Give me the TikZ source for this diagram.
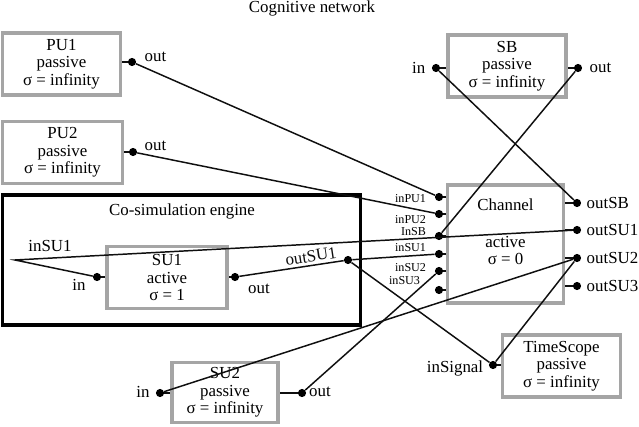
\documentclass[tikz,border=0pt]{standalone}
\usepackage{fontspec}
\setmainfont{Liberation Serif}
\usetikzlibrary{positioning,calc}
\definecolor{cUnit}{RGB}{165,165,165}
\definecolor{cWire}{RGB}{15,15,15}

\begin{document}
\begin{tikzpicture}[
  x=0.025cm, y=-0.025cm,
  font=\fontsize{12}{12.5}\selectfont,
  unit/.style 2 args={draw=cUnit, line width=2.2pt, fill=white, align=center,
    inner sep=0pt, minimum width=#1, minimum height=#2},
  engine/.style={draw=black, line width=2.3pt, minimum width=8.93cm,
    minimum height=3.25cm, inner sep=0pt},
  port/.style={circle, fill=black, inner sep=0pt, minimum size=5.8pt},
  stub/.style={line width=1.3pt, cWire},
  wire/.style={line width=1.05pt, cWire},
  lbl/.style={inner sep=1pt},
  chlbl/.style={font=\fontsize{8.6}{9}\selectfont, inner sep=0.5pt, anchor=east},
]
\useasboundingbox (0,0) rectangle (639,427);

\node[lbl] (title) at (312,8) {Cognitive network};

% Co-simulation engine frame
\node[engine] (eng) at (181.5,260) {};
\node[lbl] (engtitle) at (182,211) {Co-simulation engine};

% Units
\node[unit={2.93cm}{1.55cm}] (pu1) at (61.5,64) {PU1\\ passive\\ σ = infinity};
\node[unit={2.98cm}{1.53cm}] (pu2) at (62.5,152.5) {PU2\\ passive\\ σ = infinity};
\node[unit={2.95cm}{1.55cm}] (sb) at (507,66) {SB\\ passive\\ σ = infinity};
\node[unit={3.0cm}{1.53cm}] (su1) at (167,277.5) {SU1\\ active\\ σ = 1};
\node[unit={2.65cm}{1.48cm}] (su2) at (225,392.5) {SU2\\ passive\\ σ = infinity};
\node[unit={2.93cm}{1.55cm}] (ts) at (561.5,366) {TimeScope\\ passive\\ σ = infinity};
\node[unit={2.88cm}{2.95cm}] (chan) at (505.5,244) {};
\node[align=center, inner sep=0pt] (chantext) at (505.5,232)
  {Channel\\[13.5pt] active\\ σ = 0};

% Unit ports
\node[port] (pu1out) at (132,62) {};
\node[port] (pu2out) at (133,152) {};
\node[port] (sbin) at (436,68) {};
\node[port] (sbout) at (578,68) {};
\node[port] (su1in) at (97,277) {};
\node[port] (su1out) at (235,277) {};
\node[port] (su2in) at (160,393) {};
\node[port] (su2out) at (302,393) {};
\node[port] (tsin) at (493,365) {};
\node[port] (junc) at (348,260) {};
\coordinate (bend) at (15,260);

\draw[stub] (pu1out) -- (pu1out -| pu1.east);
\draw[stub] (pu2out) -- (pu2out -| pu2.east);
\draw[stub] (sbin) -- (sbin -| sb.west);
\draw[stub] (sbout) -- (sbout -| sb.east);
\draw[stub] (su1in) -- (su1in -| su1.west);
\draw[stub] (su1out) -- (su1out -| su1.east);
\draw[stub] (su2in) -- (su2in -| su2.west);
\draw[stub] (su2out) -- (su2out -| su2.east);
\draw[stub] (tsin) -- (tsin -| ts.west);

% Channel ports
\foreach \p/\y in {inPU1/197, inPU2/214, InSB/236, inSU1/254, inSU2/271, inSU3/290}
  {\node[port] (c\p) at (439,\y) {};
   \draw[stub] (c\p) -- (c\p -| chan.west);}
\foreach \p/\x/\y in {inPU1/427/199, inPU2/427/220, InSB/427/232,
    inSU1/427/248, inSU2/427/268, inSU3/421/281}
  {\node[chlbl] (l\p) at (\x,\y) {\p};}
\foreach \p/\y in {outSB/203, outSU1/230, outSU2/258, outSU3/286}
  {\node[port] (c\p) at (577,\y) {};
   \draw[stub] (c\p) -- (c\p -| chan.east);
   \node[lbl, anchor=west] (l\p) at (585,\y) {\p};}

% Port labels
\node[lbl, anchor=west] (lpu1out) at (143,57) {out};
\node[lbl, anchor=west] (lpu2out) at (143,146) {out};
\node[lbl, anchor=east] (lsbin) at (427,68) {in};
\node[lbl, anchor=west] (lsbout) at (588,68) {out};
\node[lbl] (lsu1in) at (79,285) {in};
\node[lbl] (lsu1out) at (259,289) {out};
\node[lbl] (lsu2in) at (143,392) {in};
\node[lbl] (lsu2out) at (320,392) {out};
\node[lbl] (ltsin) at (455,368) {inSignal};
\node[lbl] (linsu1) at (50,246) {inSU1};

% Wires
\draw[wire] (pu1out) -- (cinPU1);
\draw[wire] (pu2out) -- (cinPU2);
\draw[wire] (sbin) -- (coutSB);
\draw[wire] (sbout) -- (cInSB);
\draw[wire] (coutSU1) -- (bend) -- (su1in);
\draw[wire] (su1out) -- node[lbl, sloped, above=1pt, pos=0.7] {outSU1} (junc);
\draw[wire] (junc) -- (cinSU1);
\draw[wire] (junc) -- (tsin);
\draw[wire] (su2in) -- (coutSU2);
\draw[wire] (su2out) -- (cinSU2);
\draw[wire] (coutSU2) -- (tsin);

\end{tikzpicture}
\end{document}
